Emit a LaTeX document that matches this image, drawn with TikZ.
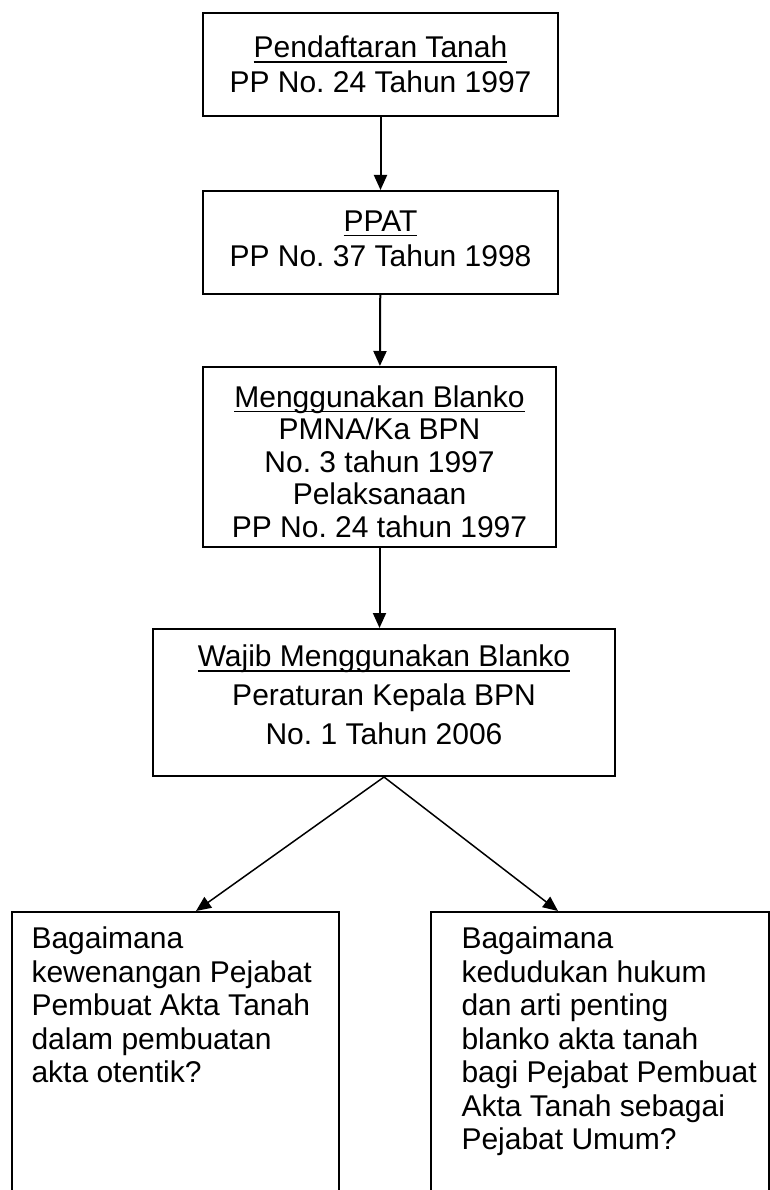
\documentclass[tikz,border=0pt]{standalone}
\usepackage{fontspec}
\setmainfont{Liberation Sans}
\usepackage{amsmath}
\usetikzlibrary{arrows.meta}
\frenchspacing
\newcommand{\kop}[1]{\underline{\smash[b]{#1}}}

\begin{document}
\begin{tikzpicture}[x=0.4pt,y=-0.4pt,
  lawbox/.style={draw,line width=0.8pt,align=center,inner sep=0pt,font=\fontsize{12}{14}\selectfont},
  qbox/.style={draw,line width=0.8pt,anchor=north west,inner sep=0pt,minimum height=130pt},
  qtext/.style={anchor=north west,align=left,inner sep=0pt,font=\fontsize{12}{13.4}\selectfont},
  arr/.style={-{Triangle[width=5.2pt,length=6pt]},line width=0.8pt}]
\useasboundingbox (0,0) rectangle (770,1190);
\node[lawbox,minimum width=142pt,minimum height=41.2pt] (tanah) at (380.5,64.5) {\kop{Pendaftaran Tanah}\\PP No. 24 Tahun 1997};
\node[lawbox,minimum width=142pt,minimum height=41.2pt] (ppat) at (380.5,242.5) {\kop{PPAT}\\PP No. 37 Tahun 1998\rule[-3pt]{0pt}{3pt}};
\node[lawbox,minimum width=141.2pt,minimum height=72pt,font=\fontsize{12}{13}\selectfont] (blanko) at (379.5,457) {\rule{0pt}{12.5pt}\kop{Menggunakan Blanko}\\PMNA/Ka BPN\\No. 3 tahun 1997\\Pelaksanaan\\PP No. 24 tahun 1997};
\node[lawbox,minimum width=184.8pt,minimum height=58.8pt,font=\fontsize{12}{15.6}\selectfont] (wajib) at (384,702.5) {\kop{Wajib Menggunakan Blanko}\\Peraturan Kepala BPN\\No. 1 Tahun 2006\rule[-6pt]{0pt}{6pt}};
% two questions, boxes run off the page
\node[qbox,minimum width=130.8pt] (q1) at (11,911) {};
\node[qbox,minimum width=135.2pt] (q2) at (430,911) {};
\node[qtext] (q1txt) at ([xshift=8pt,yshift=-6.2pt]q1.north west) {Bagaimana\\kewenangan Pejabat\\Pembuat Akta Tanah\\dalam pembuatan\\akta otentik?};
\node[qtext] (q2txt) at ([xshift=12.4pt,yshift=-6.2pt]q2.north west) {Bagaimana\\kedudukan hukum\\dan arti penting\\blanko akta tanah\\bagi Pejabat Pembuat\\Akta Tanah sebagai\\Pejabat Umum?};
\draw[arr] (tanah) -- (ppat);
\draw[arr] (ppat) -- (blanko);
\draw[arr] (blanko) -- (blanko |- wajib.north);
\draw[arr,line width=0.6pt] (wajib.south) -- ([xshift=8.2pt]q1.north);
\draw[arr,line width=0.6pt] (wajib.south) -- ([xshift=-16.8pt]q2.north);
\end{tikzpicture}
\end{document}
